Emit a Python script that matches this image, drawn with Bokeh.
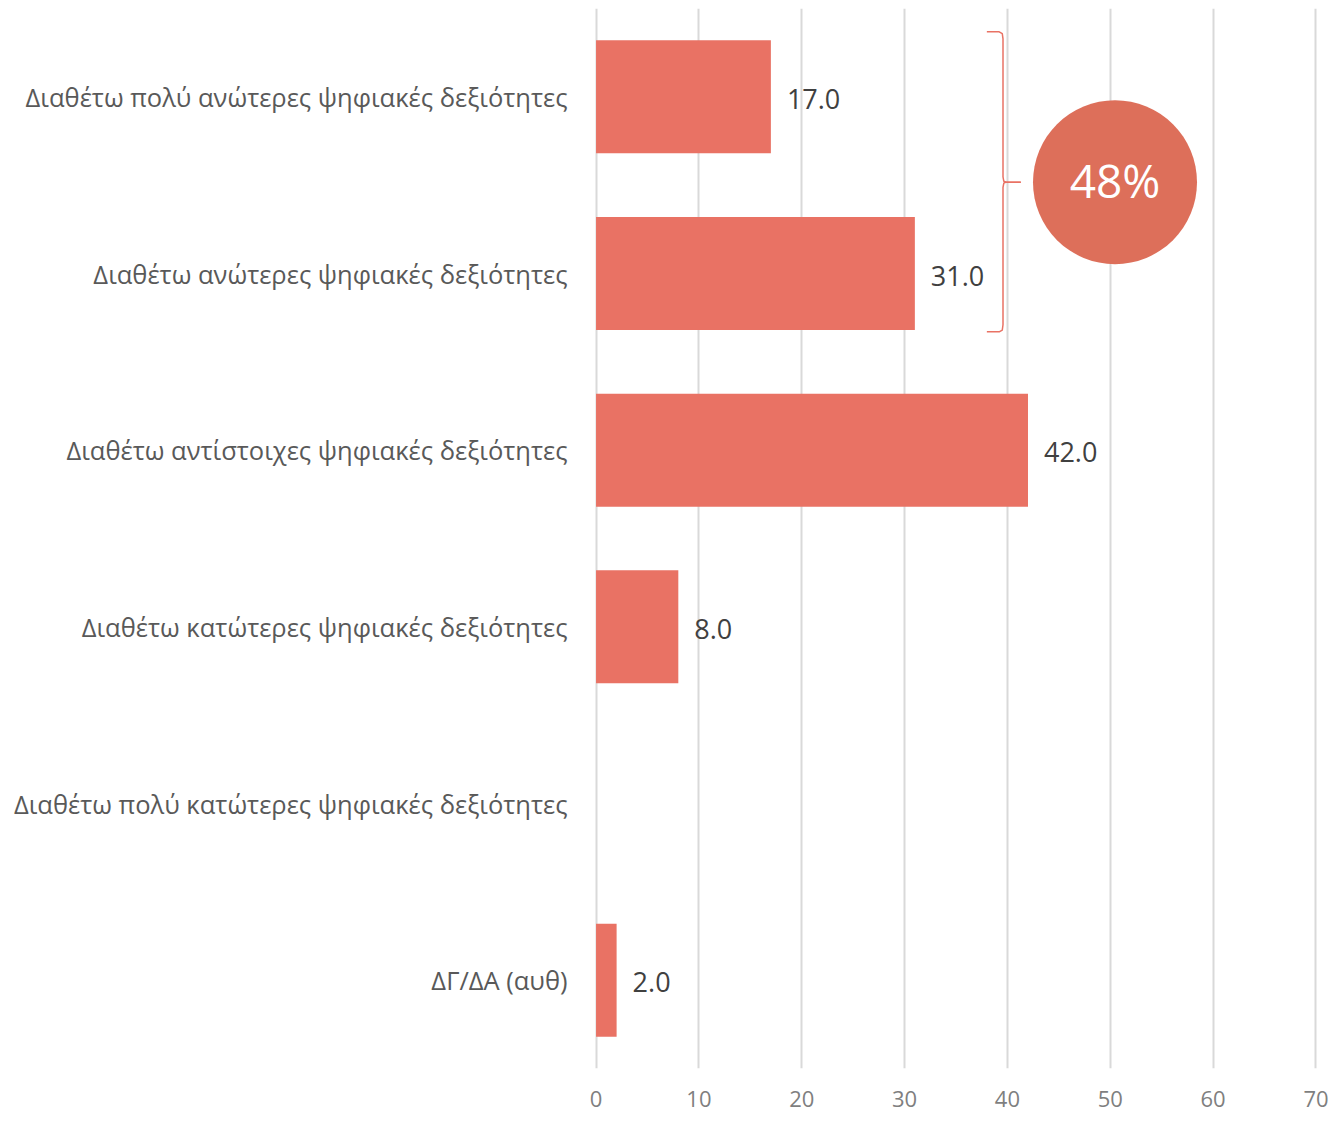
from bokeh.plotting import figure
from bokeh.models import ColumnDataSource, FixedTicker, Range1d
from bokeh.core.properties import value
from bokeh.embed import file_html
from bokeh.resources import INLINE

categories = [
    "Διαθέτω πολύ ανώτερες ψηφιακές δεξιότητες",
    "Διαθέτω ανώτερες ψηφιακές δεξιότητες",
    "Διαθέτω αντίστοιχες ψηφιακές δεξιότητες",
    "Διαθέτω κατώτερες ψηφιακές δεξιότητες",
    "Διαθέτω πολύ κατώτερες ψηφιακές δεξιότητες",
    "ΔΓ/ΔΑ (αυθ)",
]
values = [17.0, 31.0, 42.0, 8.0, 0.0, 2.0]
x_ticks = [0, 10, 20, 30, 40, 50, 60, 70]
bracket_label = "48%"

FONT = "Open Sans"
BAR = "#E97264"

n = len(categories)
ypos = [n - 1 - i for i in range(n)]

p = figure(width=1330, height=1120, output_backend="svg", toolbar_location=None,
           x_range=Range1d(-0.15, 70.15), y_range=Range1d(-0.5, n - 0.5),
           min_border_left=594, min_border_right=13, min_border_top=8, min_border_bottom=52)
p.outline_line_color = None
p.background_fill_color = "white"

src = ColumnDataSource(dict(y=ypos, v=values,
                            lab=["%.1f" % v if v > 0 else "" for v in values]))
p.hbar(y="y", right="v", left=0, height=0.64, source=src, fill_color=BAR, line_color=None)
p.text(x="v", y="y", text="lab", source=src, x_offset=16, y_offset=2,
       text_baseline="middle", text_align="left", text_font=value(FONT),
       text_font_size="27px", text_color="#404040")

# grid
p.xgrid.ticker = FixedTicker(ticks=x_ticks)
p.xgrid.grid_line_color = "#D9D9D9"
p.xgrid.grid_line_width = 2
p.ygrid.grid_line_color = None

p.xaxis.ticker = FixedTicker(ticks=x_ticks)
p.xaxis.axis_line_color = None
p.xaxis.major_tick_line_color = None
p.xaxis.minor_tick_line_color = None
p.xaxis.major_tick_out = 0
p.xaxis.major_tick_in = 0
p.xaxis.major_label_text_font = FONT
p.xaxis.major_label_text_font_size = "22px"
p.xaxis.major_label_text_color = "#7F7F7F"
p.xaxis.major_label_standoff = 22

p.yaxis.ticker = FixedTicker(ticks=ypos)
p.yaxis.major_label_overrides = {y: c for y, c in zip(ypos, categories)}
p.yaxis.axis_line_color = None
p.yaxis.major_tick_line_color = None
p.yaxis.minor_tick_line_color = None
p.yaxis.major_tick_out = 0
p.yaxis.major_tick_in = 0
p.yaxis.major_label_text_font = FONT
p.yaxis.major_label_text_font_size = "25.5px"
p.yaxis.major_label_text_color = "#595959"
p.yaxis.major_label_standoff = 27

# bracket over the first two categories
top = ypos[0] + 0.368
bot = ypos[1] - 0.33
mid = (ypos[0] + ypos[1]) / 2 + 0.017
xv = 39.57
xl = 38.0
xt = 41.3
bx = [xl, 39.2, 39.5, xv, xv, 39.65, 39.9, xt]
by = [top, top, top - 0.01, top - 0.04, mid + 0.03, mid + 0.005, mid, mid]
by2 = [bot, bot, bot + 0.01, bot + 0.04, mid - 0.03, mid - 0.005, mid, mid]
p.line(bx, by, line_color=BAR, line_width=1.5)
p.line(bx, by2, line_color=BAR, line_width=1.5)

p.scatter([50.46], [mid], size=164, marker="circle", fill_color="#DD6F5A", line_color=None)
p.text([50.46], [mid], text=[bracket_label], text_align="center", text_baseline="middle",
       text_font=value(FONT), text_font_size="46px", text_color="white", y_offset=-2)

open("out.html", "w").write(file_html(p, INLINE))
